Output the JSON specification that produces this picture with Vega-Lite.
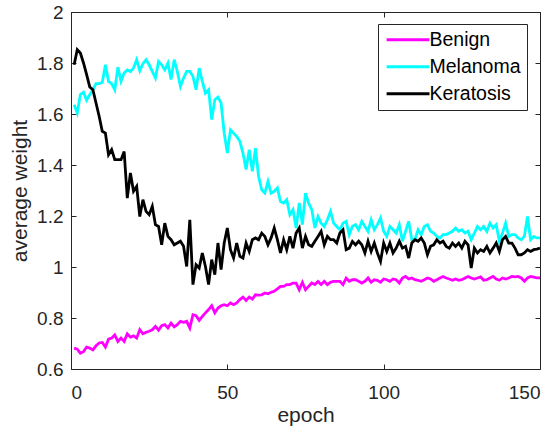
{
  "$schema": "https://vega.github.io/schema/vega-lite/v6.json",
  "width": 469,
  "height": 357,
  "autosize": {"type": "none"},
  "padding": {"left": 71, "top": 12, "right": 17, "bottom": 63},
  "background": "white",
  "config": {
    "view": {"stroke": "#262626", "strokeWidth": 1},
    "axis": {
      "grid": false,
      "domain": false,
      "tickColor": "#262626",
      "tickSize": -5,
      "tickWidth": 1,
      "labelFont": "Liberation Sans",
      "labelFontSize": 19,
      "labelColor": "#262626",
      "titleFont": "Liberation Sans",
      "titleFontSize": 21,
      "titleFontWeight": "normal",
      "titleColor": "#262626"
    }
  },
  "data": {
    "values": [
      {"epoch":1,"Benign":0.682,"Melanoma":1.636,"Keratosis":1.793},
      {"epoch":2,"Benign":0.678,"Melanoma":1.604,"Keratosis":1.852},
      {"epoch":3,"Benign":0.662,"Melanoma":1.676,"Keratosis":1.839},
      {"epoch":4,"Benign":0.668,"Melanoma":1.685,"Keratosis":1.8},
      {"epoch":5,"Benign":0.686,"Melanoma":1.654,"Keratosis":1.754},
      {"epoch":6,"Benign":0.682,"Melanoma":1.676,"Keratosis":1.706},
      {"epoch":7,"Benign":0.675,"Melanoma":1.695,"Keratosis":1.695},
      {"epoch":8,"Benign":0.691,"Melanoma":1.719,"Keratosis":1.643},
      {"epoch":9,"Benign":0.702,"Melanoma":1.719,"Keratosis":1.591},
      {"epoch":10,"Benign":0.704,"Melanoma":1.724,"Keratosis":1.532},
      {"epoch":11,"Benign":0.686,"Melanoma":1.793,"Keratosis":1.525},
      {"epoch":12,"Benign":0.717,"Melanoma":1.728,"Keratosis":1.44},
      {"epoch":13,"Benign":0.721,"Melanoma":1.719,"Keratosis":1.46},
      {"epoch":14,"Benign":0.734,"Melanoma":1.695,"Keratosis":1.421},
      {"epoch":15,"Benign":0.708,"Melanoma":1.784,"Keratosis":1.421},
      {"epoch":16,"Benign":0.721,"Melanoma":1.728,"Keratosis":1.421},
      {"epoch":17,"Benign":0.708,"Melanoma":1.761,"Keratosis":1.453},
      {"epoch":18,"Benign":0.738,"Melanoma":1.773,"Keratosis":1.27},
      {"epoch":19,"Benign":0.725,"Melanoma":1.767,"Keratosis":1.369},
      {"epoch":20,"Benign":0.73,"Melanoma":1.78,"Keratosis":1.297},
      {"epoch":21,"Benign":0.721,"Melanoma":1.813,"Keratosis":1.316},
      {"epoch":22,"Benign":0.754,"Melanoma":1.77,"Keratosis":1.198},
      {"epoch":23,"Benign":0.738,"Melanoma":1.797,"Keratosis":1.264},
      {"epoch":24,"Benign":0.744,"Melanoma":1.813,"Keratosis":1.218},
      {"epoch":25,"Benign":0.748,"Melanoma":1.793,"Keratosis":1.205},
      {"epoch":26,"Benign":0.754,"Melanoma":1.767,"Keratosis":1.238},
      {"epoch":27,"Benign":0.767,"Melanoma":1.741,"Keratosis":1.166},
      {"epoch":28,"Benign":0.752,"Melanoma":1.806,"Keratosis":1.159},
      {"epoch":29,"Benign":0.77,"Melanoma":1.793,"Keratosis":1.087},
      {"epoch":30,"Benign":0.774,"Melanoma":1.773,"Keratosis":1.172},
      {"epoch":31,"Benign":0.761,"Melanoma":1.8,"Keratosis":1.12},
      {"epoch":32,"Benign":0.78,"Melanoma":1.735,"Keratosis":1.107},
      {"epoch":33,"Benign":0.765,"Melanoma":1.813,"Keratosis":1.087},
      {"epoch":34,"Benign":0.774,"Melanoma":1.767,"Keratosis":1.094},
      {"epoch":35,"Benign":0.787,"Melanoma":1.708,"Keratosis":1.101},
      {"epoch":36,"Benign":0.783,"Melanoma":1.741,"Keratosis":1.081},
      {"epoch":37,"Benign":0.787,"Melanoma":1.767,"Keratosis":1.002},
      {"epoch":38,"Benign":0.761,"Melanoma":1.767,"Keratosis":1.185},
      {"epoch":39,"Benign":0.813,"Melanoma":1.748,"Keratosis":0.931},
      {"epoch":40,"Benign":0.809,"Melanoma":1.695,"Keratosis":1.009},
      {"epoch":41,"Benign":0.791,"Melanoma":1.78,"Keratosis":0.996},
      {"epoch":42,"Benign":0.806,"Melanoma":1.728,"Keratosis":1.055},
      {"epoch":43,"Benign":0.82,"Melanoma":1.682,"Keratosis":1.002},
      {"epoch":44,"Benign":0.833,"Melanoma":1.695,"Keratosis":0.931},
      {"epoch":45,"Benign":0.848,"Melanoma":1.578,"Keratosis":1.029},
      {"epoch":46,"Benign":0.82,"Melanoma":1.656,"Keratosis":0.97},
      {"epoch":47,"Benign":0.839,"Melanoma":1.666,"Keratosis":1.094},
      {"epoch":48,"Benign":0.848,"Melanoma":1.643,"Keratosis":0.99},
      {"epoch":49,"Benign":0.852,"Melanoma":1.525,"Keratosis":1.094},
      {"epoch":50,"Benign":0.848,"Melanoma":1.447,"Keratosis":1.153},
      {"epoch":51,"Benign":0.859,"Melanoma":1.538,"Keratosis":1.068},
      {"epoch":52,"Benign":0.852,"Melanoma":1.525,"Keratosis":1.035},
      {"epoch":53,"Benign":0.859,"Melanoma":1.512,"Keratosis":1.094},
      {"epoch":54,"Benign":0.872,"Melanoma":1.493,"Keratosis":1.042},
      {"epoch":55,"Benign":0.882,"Melanoma":1.447,"Keratosis":1.035},
      {"epoch":56,"Benign":0.869,"Melanoma":1.382,"Keratosis":1.094},
      {"epoch":57,"Benign":0.882,"Melanoma":1.46,"Keratosis":1.061},
      {"epoch":58,"Benign":0.874,"Melanoma":1.375,"Keratosis":1.107},
      {"epoch":59,"Benign":0.891,"Melanoma":1.466,"Keratosis":1.114},
      {"epoch":60,"Benign":0.89,"Melanoma":1.355,"Keratosis":1.107},
      {"epoch":61,"Benign":0.891,"Melanoma":1.303,"Keratosis":1.133},
      {"epoch":62,"Benign":0.898,"Melanoma":1.29,"Keratosis":1.12},
      {"epoch":63,"Benign":0.895,"Melanoma":1.336,"Keratosis":1.087},
      {"epoch":64,"Benign":0.901,"Melanoma":1.29,"Keratosis":1.114},
      {"epoch":65,"Benign":0.905,"Melanoma":1.297,"Keratosis":1.153},
      {"epoch":66,"Benign":0.914,"Melanoma":1.31,"Keratosis":1.107},
      {"epoch":67,"Benign":0.924,"Melanoma":1.257,"Keratosis":1.055},
      {"epoch":68,"Benign":0.924,"Melanoma":1.251,"Keratosis":1.107},
      {"epoch":69,"Benign":0.931,"Melanoma":1.264,"Keratosis":1.068},
      {"epoch":70,"Benign":0.931,"Melanoma":1.205,"Keratosis":1.12},
      {"epoch":71,"Benign":0.937,"Melanoma":1.225,"Keratosis":1.074},
      {"epoch":72,"Benign":0.937,"Melanoma":1.153,"Keratosis":1.133},
      {"epoch":73,"Benign":0.911,"Melanoma":1.251,"Keratosis":1.153},
      {"epoch":74,"Benign":0.94,"Melanoma":1.166,"Keratosis":1.074},
      {"epoch":75,"Benign":0.911,"Melanoma":1.29,"Keratosis":1.12},
      {"epoch":76,"Benign":0.924,"Melanoma":1.251,"Keratosis":1.087},
      {"epoch":77,"Benign":0.937,"Melanoma":1.225,"Keratosis":1.081},
      {"epoch":78,"Benign":0.931,"Melanoma":1.153,"Keratosis":1.101},
      {"epoch":79,"Benign":0.943,"Melanoma":1.198,"Keratosis":1.12},
      {"epoch":80,"Benign":0.931,"Melanoma":1.172,"Keratosis":1.14},
      {"epoch":81,"Benign":0.944,"Melanoma":1.159,"Keratosis":1.087},
      {"epoch":82,"Benign":0.931,"Melanoma":1.185,"Keratosis":1.12},
      {"epoch":83,"Benign":0.94,"Melanoma":1.218,"Keratosis":1.107},
      {"epoch":84,"Benign":0.944,"Melanoma":1.172,"Keratosis":1.107},
      {"epoch":85,"Benign":0.944,"Melanoma":1.159,"Keratosis":1.094},
      {"epoch":86,"Benign":0.944,"Melanoma":1.146,"Keratosis":1.133},
      {"epoch":87,"Benign":0.931,"Melanoma":1.172,"Keratosis":1.146},
      {"epoch":88,"Benign":0.956,"Melanoma":1.179,"Keratosis":1.068},
      {"epoch":89,"Benign":0.944,"Melanoma":1.127,"Keratosis":1.074},
      {"epoch":90,"Benign":0.95,"Melanoma":1.16,"Keratosis":1.1},
      {"epoch":91,"Benign":0.95,"Melanoma":1.166,"Keratosis":1.087},
      {"epoch":92,"Benign":0.944,"Melanoma":1.146,"Keratosis":1.101},
      {"epoch":93,"Benign":0.937,"Melanoma":1.179,"Keratosis":1.087},
      {"epoch":94,"Benign":0.944,"Melanoma":1.159,"Keratosis":1.055},
      {"epoch":95,"Benign":0.957,"Melanoma":1.14,"Keratosis":1.101},
      {"epoch":96,"Benign":0.94,"Melanoma":1.185,"Keratosis":1.061},
      {"epoch":97,"Benign":0.95,"Melanoma":1.146,"Keratosis":1.094},
      {"epoch":98,"Benign":0.948,"Melanoma":1.166,"Keratosis":1.055},
      {"epoch":99,"Benign":0.94,"Melanoma":1.192,"Keratosis":1.022},
      {"epoch":100,"Benign":0.953,"Melanoma":1.14,"Keratosis":1.094},
      {"epoch":101,"Benign":0.95,"Melanoma":1.12,"Keratosis":1.061},
      {"epoch":102,"Benign":0.944,"Melanoma":1.159,"Keratosis":1.094},
      {"epoch":103,"Benign":0.953,"Melanoma":1.146,"Keratosis":1.055},
      {"epoch":104,"Benign":0.95,"Melanoma":1.133,"Keratosis":1.074},
      {"epoch":105,"Benign":0.937,"Melanoma":1.166,"Keratosis":1.101},
      {"epoch":106,"Benign":0.957,"Melanoma":1.101,"Keratosis":1.074},
      {"epoch":107,"Benign":0.963,"Melanoma":1.14,"Keratosis":1.081},
      {"epoch":108,"Benign":0.953,"Melanoma":1.179,"Keratosis":1.035},
      {"epoch":109,"Benign":0.957,"Melanoma":1.107,"Keratosis":1.094},
      {"epoch":110,"Benign":0.95,"Melanoma":1.107,"Keratosis":1.107},
      {"epoch":111,"Benign":0.948,"Melanoma":1.146,"Keratosis":1.101},
      {"epoch":112,"Benign":0.944,"Melanoma":1.127,"Keratosis":1.114},
      {"epoch":113,"Benign":0.95,"Melanoma":1.159,"Keratosis":1.094},
      {"epoch":114,"Benign":0.957,"Melanoma":1.166,"Keratosis":1.048},
      {"epoch":115,"Benign":0.953,"Melanoma":1.14,"Keratosis":1.081},
      {"epoch":116,"Benign":0.944,"Melanoma":1.133,"Keratosis":1.087},
      {"epoch":117,"Benign":0.95,"Melanoma":1.12,"Keratosis":1.107},
      {"epoch":118,"Benign":0.957,"Melanoma":1.114,"Keratosis":1.094},
      {"epoch":119,"Benign":0.963,"Melanoma":1.127,"Keratosis":1.101},
      {"epoch":120,"Benign":0.957,"Melanoma":1.127,"Keratosis":1.081},
      {"epoch":121,"Benign":0.953,"Melanoma":1.133,"Keratosis":1.074},
      {"epoch":122,"Benign":0.948,"Melanoma":1.14,"Keratosis":1.094},
      {"epoch":123,"Benign":0.953,"Melanoma":1.153,"Keratosis":1.081},
      {"epoch":124,"Benign":0.948,"Melanoma":1.14,"Keratosis":1.094},
      {"epoch":125,"Benign":0.95,"Melanoma":1.146,"Keratosis":1.074},
      {"epoch":126,"Benign":0.957,"Melanoma":1.133,"Keratosis":1.101},
      {"epoch":127,"Benign":0.963,"Melanoma":1.14,"Keratosis":1.087},
      {"epoch":128,"Benign":0.957,"Melanoma":1.107,"Keratosis":0.996},
      {"epoch":129,"Benign":0.953,"Melanoma":1.133,"Keratosis":1.074},
      {"epoch":130,"Benign":0.957,"Melanoma":1.159,"Keratosis":1.055},
      {"epoch":131,"Benign":0.961,"Melanoma":1.146,"Keratosis":1.068},
      {"epoch":132,"Benign":0.948,"Melanoma":1.159,"Keratosis":1.061},
      {"epoch":133,"Benign":0.95,"Melanoma":1.14,"Keratosis":1.081},
      {"epoch":134,"Benign":0.957,"Melanoma":1.172,"Keratosis":1.055},
      {"epoch":135,"Benign":0.963,"Melanoma":1.153,"Keratosis":1.074},
      {"epoch":136,"Benign":0.953,"Melanoma":1.166,"Keratosis":1.094},
      {"epoch":137,"Benign":0.948,"Melanoma":1.101,"Keratosis":1.061},
      {"epoch":138,"Benign":0.957,"Melanoma":1.133,"Keratosis":1.107},
      {"epoch":139,"Benign":0.953,"Melanoma":1.172,"Keratosis":1.12},
      {"epoch":140,"Benign":0.957,"Melanoma":1.12,"Keratosis":1.094},
      {"epoch":141,"Benign":0.963,"Melanoma":1.127,"Keratosis":1.094},
      {"epoch":142,"Benign":0.961,"Melanoma":1.127,"Keratosis":1.074},
      {"epoch":143,"Benign":0.963,"Melanoma":1.114,"Keratosis":1.048},
      {"epoch":144,"Benign":0.957,"Melanoma":1.107,"Keratosis":1.048},
      {"epoch":145,"Benign":0.944,"Melanoma":1.12,"Keratosis":1.055},
      {"epoch":146,"Benign":0.957,"Melanoma":1.198,"Keratosis":1.068},
      {"epoch":147,"Benign":0.963,"Melanoma":1.107,"Keratosis":1.061},
      {"epoch":148,"Benign":0.96,"Melanoma":1.12,"Keratosis":1.068},
      {"epoch":149,"Benign":0.957,"Melanoma":1.114,"Keratosis":1.07},
      {"epoch":150,"Benign":0.957,"Melanoma":1.114,"Keratosis":1.074}
    ]
  },
  "transform": [{"fold": ["Benign", "Melanoma", "Keratosis"], "as": ["series", "value"]}],
  "layer": [
    {
      "mark": {"type": "line", "strokeWidth": 2.8, "clip": true},
      "encoding": {
        "x": {"field": "epoch", "type": "quantitative", "scale": {"domain": [0, 150], "nice": false},
              "axis": {"orient": "bottom", "values": [0, 50, 100, 150], "title": "epoch", "labelPadding": 19, "titlePadding": 2}},
        "y": {"field": "value", "type": "quantitative", "scale": {"domain": [0.6, 2], "nice": false, "zero": false},
              "axis": {"orient": "left", "values": [0.6, 0.8, 1, 1.2, 1.4, 1.6, 1.8, 2], "format": "~g", "title": "average weight", "labelPadding": 13, "titlePadding": 6}},
        "color": {"field": "series", "type": "nominal",
                  "scale": {"domain": ["Benign", "Melanoma", "Keratosis"], "range": ["#ff00ff", "#00ffff", "#000000"]},
                  "legend": {"title": null, "orient": "none", "legendX": 307, "legendY": 12,
                             "symbolType": "M-1.3,0H6.5", "symbolSize": 121, "symbolStrokeWidth": 3,
                             "labelFont": "Liberation Sans", "labelFontSize": 19.5, "labelColor": "#000000", "labelOffset": 26,
                             "strokeColor": "#262626", "fillColor": "white", "padding": 6, "rowPadding": 6}},
        "order": {"field": "epoch", "type": "quantitative"}
      }
    },
    {
      "mark": {"type": "point", "opacity": 0},
      "encoding": {
        "x": {"field": "epoch", "type": "quantitative",
              "axis": {"orient": "top", "values": [0, 50, 100, 150], "labels": false, "title": null}},
        "y": {"field": "value", "type": "quantitative",
              "axis": {"orient": "right", "values": [0.6, 0.8, 1, 1.2, 1.4, 1.6, 1.8, 2], "labels": false, "title": null}}
      }
    }
  ],
  "resolve": {"axis": {"x": "independent", "y": "independent"}}
}
